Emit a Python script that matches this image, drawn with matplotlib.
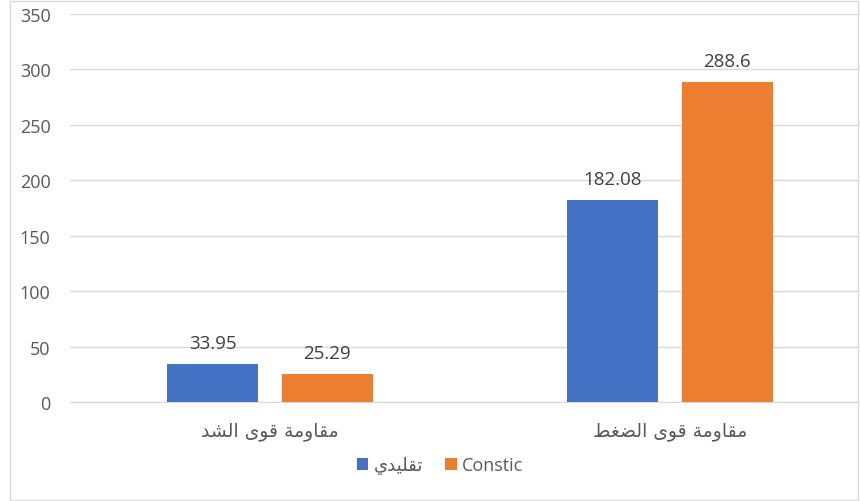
import numpy as np
import matplotlib.pyplot as plt
from matplotlib.patches import Rectangle

# data
categories = ['مقاومة قوى الشد', 'مقاومة قوى الضغط']
series_names = ['تقليدي', 'Constic']
traditional = [33.95, 182.08]
constic = [25.29, 288.6]
yticks = [0, 50, 100, 150, 200, 250, 300, 350]

# tiny arabic shaper (iso, final, initial, medial)
forms = {
    'ا': ('\uFE8D', '\uFE8E', None, None),
    'د': ('\uFEA9', '\uFEAA', None, None),
    'ة': ('\uFE93', '\uFE94', None, None),
    'و': ('\uFEED', '\uFEEE', None, None),
    'ى': ('\uFEEF', '\uFEF0', None, None),
    'م': ('\uFEE1', '\uFEE2', '\uFEE3', '\uFEE4'),
    'ق': ('\uFED5', '\uFED6', '\uFED7', '\uFED8'),
    'ل': ('\uFEDD', '\uFEDE', '\uFEDF', '\uFEE0'),
    'ش': ('\uFEB5', '\uFEB6', '\uFEB7', '\uFEB8'),
    'ض': ('\uFEBD', '\uFEBE', '\uFEBF', '\uFEC0'),
    'غ': ('\uFECD', '\uFECE', '\uFECF', '\uFED0'),
    'ط': ('\uFEC1', '\uFEC2', '\uFEC3', '\uFEC4'),
    'ت': ('\uFE95', '\uFE96', '\uFE97', '\uFE98'),
    'ي': ('\uFEF1', '\uFEF2', '\uFEF3', '\uFEF4'),
}


def shape(s):
    if not any(c in forms for c in s):
        return s
    out = []
    for i, c in enumerate(s):
        if c not in forms:
            out.append(c)
            continue
        prev = s[i - 1] if i > 0 else ''
        nxt = s[i + 1] if i + 1 < len(s) else ''
        join_prev = prev in forms and forms[prev][2] is not None
        join_next = nxt in forms and forms[c][2] is not None
        iso, fin, ini, med = forms[c]
        if join_prev and join_next:
            out.append(med)
        elif join_prev:
            out.append(fin)
        elif join_next:
            out.append(ini)
        else:
            out.append(iso)
    return ''.join(out)[::-1]


plt.rcParams['font.family'] = ['Open Sans', 'DejaVu Sans']
txt = '#595959'
blue = '#4472C4'
orange = '#ED7D31'

W, H = 860, 502
fig = plt.figure(figsize=(W / 100, H / 100), dpi=100)
ax = fig.add_axes([70 / W, 1 - 403 / H, (858 - 70) / W, (403 - 15) / H])

x = np.arange(len(categories))
bw = 0.227
off = 0.1435
b1 = ax.bar(x - off, traditional, bw, color=blue, label=shape(series_names[0]), zorder=3)
b2 = ax.bar(x + off, constic, bw, color=orange, label=shape(series_names[1]), zorder=3)

for bars in (b1, b2):
    for r in bars:
        v = r.get_height()
        ax.text(r.get_x() + r.get_width() / 2, v + 11, f'{v:g}', ha='center', va='bottom',
                fontsize=13.5, color='#404040',
                family=['Open Sans', 'DejaVu Sans'])

ax.set_xlim(-0.5, 1.47)
ax.set_ylim(0, 350)
ax.set_yticks(yticks)
ax.set_xticks(x)
ax.set_xticklabels([shape(c) for c in categories], fontsize=13.5, color=txt,
                   family=['DejaVu Sans'])
ax.tick_params(axis='y', labelsize=13, labelcolor=txt, length=0, pad=14)
ax.tick_params(axis='x', length=0, pad=14)
ax.grid(axis='y', color='#D9D9D9', linewidth=1, zorder=0)
for s in ['top', 'right', 'left']:
    ax.spines[s].set_visible(False)
ax.spines['bottom'].set_color('#D9D9D9')

leg = fig.legend(handles=[b1, b2], loc='center', bbox_to_anchor=(440 / W, 1 - 466 / H),
                 ncol=2, frameon=False, fontsize=13, handlelength=0.65, handleheight=0.65,
                 handletextpad=0.3, columnspacing=1.2)
for t in leg.get_texts():
    t.set_color(txt)

fig.patches.append(Rectangle((10 / W, 1 / H), 848 / W, 499 / H, transform=fig.transFigure,
                             fill=False, edgecolor='#D9D9D9', linewidth=1))

fig.savefig('out.png', dpi=100)
